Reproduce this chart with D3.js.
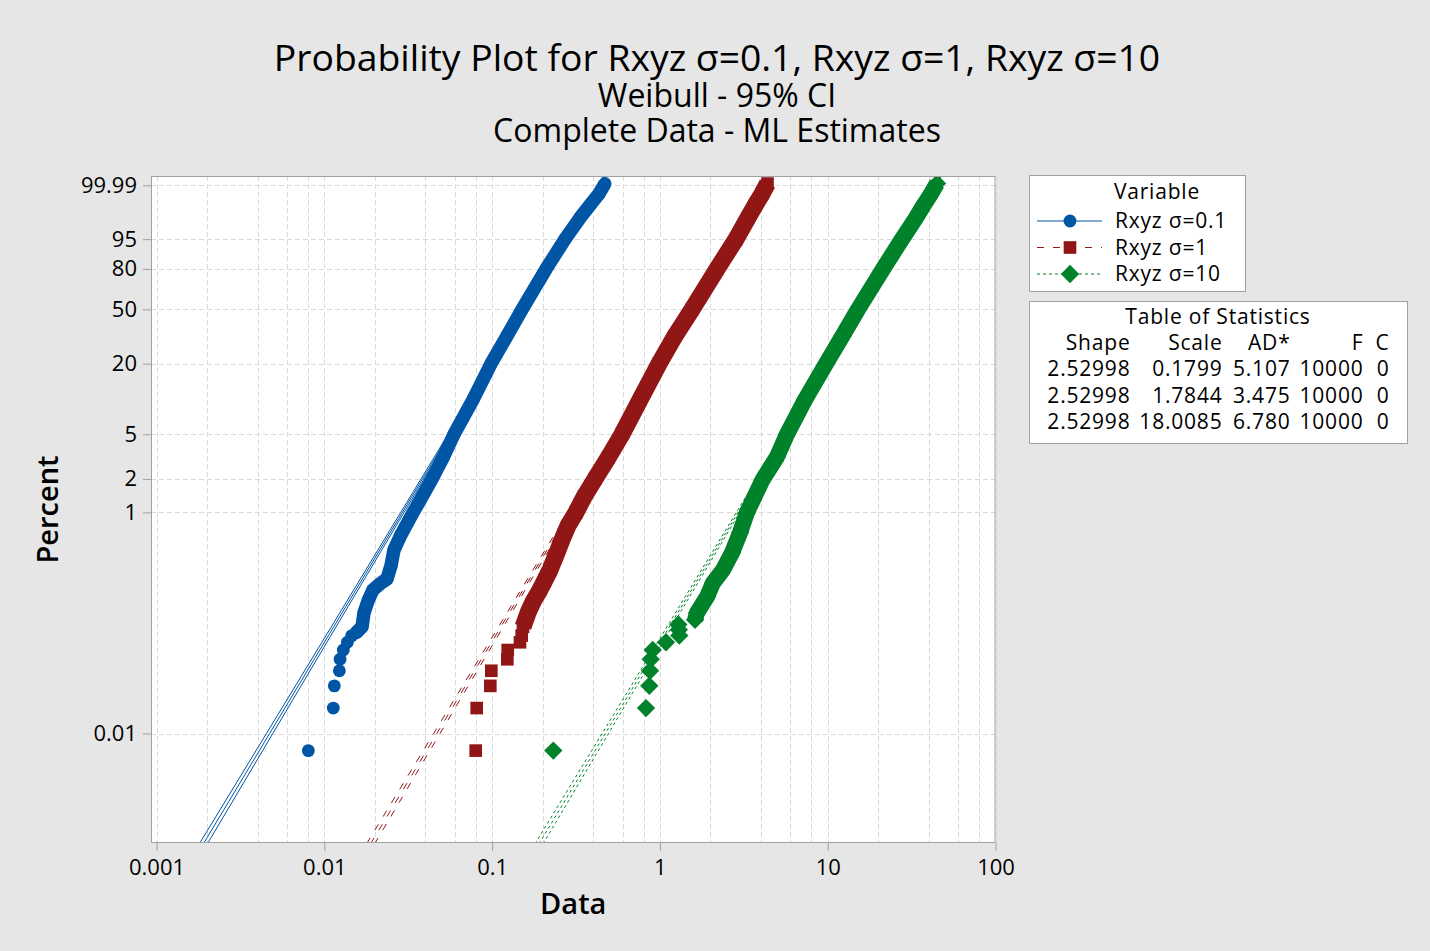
<!DOCTYPE html>
<html><head><meta charset="utf-8">
<script src="https://cdn.jsdelivr.net/npm/d3@7"></script>
<style>
body{margin:0;background:#e6e6e6;}
svg{display:block;font-family:"Open Sans","Noto Sans",sans-serif;}
</style></head><body>
<svg id="chart" width="1430" height="951"></svg>
<script>
// ---------------- data ----------------
const titleLines = ["Probability Plot for Rxyz σ=0.1, Rxyz σ=1, Rxyz σ=10", "Weibull - 95% CI", "Complete Data - ML Estimates"];
const seriesNames = ["Rxyz σ=0.1", "Rxyz σ=1", "Rxyz σ=10"];
const shapes = [2.52998, 2.52998, 2.52998];
const scales = [0.1799, 1.7844, 18.0085];
const adStats = [5.107, 3.475, 6.780];
const failures = [10000, 10000, 10000];
const censored = [0, 0, 0];
const tableHeaders = ["Shape", "Scale", "AD*", "F", "C"];

const xTickValues = [0.001, 0.01, 0.1, 1, 10, 100];
const xTickLabels = ["0.001", "0.01", "0.1", "1", "10", "100"];
const xGridValues = [0.001,0.002,0.004,0.006,0.008,0.01,0.02,0.04,0.06,0.08,0.1,0.2,0.4,0.6,0.8,1,2,4,6,8,10,20,40,60,80,100];
const yTickPercents = [0.01, 1, 2, 5, 20, 50, 80, 95, 99.99];
const yTickLabels = ["0.01", "1", "2", "5", "20", "50", "80", "95", "99.99"];
const xDomain = [0.000927, 100];
const yDomainPercent = [0.00102, 99.9986];

// confidence band half-width (log10 units) read along the percent axis
const ciPercents = [0.001, 0.01, 0.1, 1, 10, 50, 99.99, 99.9986];
const ciHalfLog10 = [0.024, 0.019, 0.014, 0.010, 0.006, 0.004, 0.007, 0.008];

// individual lower-tail points (percent, data value)
const blueTailPct = [0.007, 0.017, 0.027, 0.037, 0.047, 0.057, 0.067, 0.077];
const blueTailVal = [0.00803, 0.01131, 0.01147, 0.01229, 0.01241, 0.01298, 0.01372, 0.01457];
const redTailPct = [0.007, 0.017, 0.027, 0.037, 0.047, 0.057, 0.067, 0.077];
const redTailVal = [0.07984, 0.08093, 0.09756, 0.09890, 0.1232, 0.1239, 0.1466, 0.1501];
const greenTailPct = [0.007, 0.017, 0.027, 0.037, 0.047, 0.057, 0.067, 0.077, 0.087, 0.097];
const greenTailVal = [0.2316, 0.8263, 0.8646, 0.8730, 0.8815, 0.9060, 1.0874, 1.3050, 1.2960, 1.2873];

// dense part of each sample (percent, data value) read along the plotted band
const blueBandPct = [0.0815,0.0924,0.1237,0.159,0.200,0.2265,0.251,0.330,0.460,0.629,0.995,1.38,2,3.08,5,10,20,32.9,50,80,95,99.07,99.81,99.955,99.993];
const blueBandVal = [0.01545,0.01678,0.01724,0.01822,0.01951,0.02147,0.02364,0.02497,0.02602,0.02865,0.03378,0.03821,0.04383,0.05097,0.05928,0.0769,0.0985,0.1227,0.1508,0.2096,0.2720,0.3341,0.3886,0.4336,0.4709];
const redBandPct = [0.0924,0.1237,0.1557,0.200,0.246,0.303,0.432,0.567,0.759,1,1.38,2,3.08,5,10,20,32.9,50,80,95,99.07,99.81,99.955,99.993];
const redBandVal = [0.1528,0.1637,0.1753,0.1930,0.2067,0.2214,0.2436,0.2610,0.2834,0.3162,0.3530,0.4104,0.4906,0.5942,0.7610,0.9876,1.2303,1.5537,2.189,2.842,3.350,3.739,4.060,4.377];
const greenBandPct = [0.1069,0.1237,0.1726,0.2313,0.303,0.432,0.656,1,1.298,2,3.15,5,10,20,32.9,50,80,95,99.07,99.81,99.955,99.993];
const greenBandVal = [1.619,1.664,1.909,2.073,2.377,2.690,3.002,3.305,3.587,4.116,4.988,5.720,7.323,9.770,12.25,15.16,21.36,27.72,33.59,37.75,41.26,44.81];

const colors = ["#0055a5", "#911717", "#00822a"];
const dashes = ["none", "7,9", "3,3"];

// ---------------- layout ----------------
const W = 1430, H = 951;
const P = {left: 151, right: 995.5, top: 176, bottom: 843};
const svg = d3.select("#chart");
svg.append("rect").attr("width", W).attr("height", H).attr("fill", "#e6e6e6");

const x = d3.scaleLog().domain(xDomain).range([P.left, P.right]);
const uOf = p => Math.log(-Math.log(1 - p / 100));
const yU = d3.scaleLinear().domain(yDomainPercent.map(uOf)).range([P.bottom, P.top]);
const y = p => yU(uOf(p));

// title block (one text element, three lines)
const tSizes = [37.3, 32, 32], tY = [71, 107, 142];
const title = svg.append("text").attr("text-anchor", "middle").attr("fill", "#000");
titleLines.forEach((t, i) => title.append("tspan").attr("x", 717).attr("y", tY[i])
  .attr("font-size", tSizes[i]).text(t));

// plot area
svg.append("rect").attr("x", P.left).attr("y", P.top).attr("width", P.right - P.left)
  .attr("height", P.bottom - P.top).attr("fill", "#fff");

const grid = svg.append("g").attr("stroke", "#d9d9d9").attr("stroke-width", 1).attr("stroke-dasharray", "5,3");
xGridValues.forEach(v => {
  const xx = Math.round(x(v)) + 0.5;
  grid.append("line").attr("x1", xx).attr("x2", xx).attr("y1", P.top).attr("y2", P.bottom);
});
yTickPercents.forEach(p => {
  const yy = Math.round(y(p)) + 0.5;
  grid.append("line").attr("x1", P.left).attr("x2", P.right).attr("y1", yy).attr("y2", yy);
});

svg.append("defs").append("clipPath").attr("id", "clip").append("rect")
  .attr("x", P.left).attr("y", P.top).attr("width", P.right - P.left).attr("height", P.bottom - P.top);
const plotG = svg.append("g").attr("clip-path", "url(#clip)");

// fitted lines with confidence bounds
const line = d3.line().x(d => x(d[1])).y(d => y(d[0]));
scales.forEach((sc, s) => {
  const fit = ciPercents.map(p => sc * Math.pow(-Math.log(1 - p / 100), 1 / shapes[s]));
  [-1, 0, 1].forEach(k => {
    const pts = ciPercents.map((p, i) => [p, fit[i] * Math.pow(10, k * ciHalfLog10[i])]);
    plotG.append("path").attr("d", line(pts)).attr("fill", "none").attr("stroke", colors[s])
      .attr("stroke-width", 1).attr("stroke-dasharray", dashes[s] === "none" ? null : dashes[s]);
  });
});

// data marks
const bands = [[blueBandPct, blueBandVal], [redBandPct, redBandVal], [greenBandPct, greenBandVal]];
const tails = [[blueTailPct, blueTailVal], [redTailPct, redTailVal], [greenTailPct, greenTailVal]];
const bandWidths = [13.5, 17, 16];
const sym = [d3.symbol().type(d3.symbolCircle).size(130)(),
             d3.symbol().type(d3.symbolSquare).size(160)(),
             d3.symbol().type(d3.symbolSquare).size(168)()];
const rot = [0, 0, 45];

bands.forEach((b, s) => {
  const pts = b[0].map((p, i) => [p, b[1][i]]);
  plotG.append("path").attr("d", line(pts)).attr("fill", "none").attr("stroke", colors[s])
    .attr("stroke-width", bandWidths[s]).attr("stroke-linejoin", "round").attr("stroke-linecap", "butt");
  const all = tails[s][0].map((p, i) => [p, tails[s][1][i]]).concat(pts);
  plotG.append("g").selectAll("path").data(all).join("path")
    .attr("d", sym[s]).attr("fill", colors[s])
    .attr("transform", d => `translate(${x(d[1])},${y(d[0])}) rotate(${rot[s]})`);
});

// frame
svg.append("rect").attr("x", P.left + 0.5).attr("y", P.top + 0.5).attr("width", P.right - P.left - 1)
  .attr("height", P.bottom - P.top - 1).attr("fill", "none").attr("stroke", "#a0a0a0");

// axes
const styleAxis = g => {
  g.select(".domain").remove();
  g.selectAll("line").attr("stroke", "#a0a0a0");
  g.selectAll("text").attr("font-size", 22).attr("fill", "#000")
    .attr("font-family", "'Open Sans','Noto Sans',sans-serif");
};
svg.append("g").attr("transform", `translate(0,${P.bottom})`)
  .call(d3.axisBottom(x).tickValues(xTickValues).tickFormat((d, i) => xTickLabels[i])
    .tickSizeInner(8).tickSizeOuter(0).tickPadding(8)).call(styleAxis);
svg.append("g").attr("transform", `translate(${P.left},0)`)
  .call(d3.axisLeft(yU).tickValues(yTickPercents.map(uOf)).tickFormat((d, i) => yTickLabels[i])
    .tickSizeInner(8).tickSizeOuter(0).tickPadding(6)).call(styleAxis);

svg.append("text").attr("x", (P.left + P.right) / 2).attr("y", 914).attr("text-anchor", "middle")
  .attr("font-size", 29).attr("font-weight", 600).attr("fill", "#000").text("Data");
svg.append("text").attr("transform", `translate(58,${(P.top + P.bottom) / 2}) rotate(-90)`)
  .attr("text-anchor", "middle").attr("font-size", 29).attr("font-weight", 600).attr("fill", "#000").text("Percent");

// legend
const fs = 21, ls = 0.8;
const lg = svg.append("g").attr("letter-spacing", ls);
lg.append("rect").attr("x", 1029.5).attr("y", 175.5).attr("width", 216).attr("height", 116)
  .attr("fill", "#fff").attr("stroke", "#a0a0a0");
lg.append("text").attr("x", 1157).attr("y", 199).attr("text-anchor", "middle").attr("font-size", fs).text("Variable");
const legY = [221, 247.5, 274];
seriesNames.forEach((n, s) => {
  lg.append("line").attr("x1", 1037).attr("x2", 1102).attr("y1", legY[s]).attr("y2", legY[s])
    .attr("stroke", colors[s]).attr("stroke-dasharray", dashes[s] === "none" ? null : dashes[s]);
  lg.append("path").attr("d", sym[s]).attr("fill", colors[s])
    .attr("transform", `translate(1070,${legY[s]}) rotate(${rot[s]})`);
  lg.append("text").attr("x", 1115).attr("y", legY[s] + 7).attr("font-size", fs).text(n);
});

// table of statistics
const tb = svg.append("g").attr("letter-spacing", ls);
tb.append("rect").attr("x", 1029.5).attr("y", 301.5).attr("width", 378).attr("height", 142)
  .attr("fill", "#fff").attr("stroke", "#a0a0a0");
tb.append("text").attr("x", 1218).attr("y", 324).attr("text-anchor", "middle").attr("font-size", fs).text("Table of Statistics");
const colRight = [1130.5, 1222.5, 1290.5, 1363.5, 1389.5];
tableHeaders.forEach((h, c) => tb.append("text").attr("x", colRight[c]).attr("y", 350)
  .attr("text-anchor", "end").attr("font-size", fs).text(h));
const rowY = [376, 402.5, 429];
seriesNames.forEach((n, s) => {
  const vals = [String(shapes[s]), String(scales[s]), adStats[s].toFixed(3), String(failures[s]), String(censored[s])];
  vals.forEach((v, c) => tb.append("text").attr("x", colRight[c]).attr("y", rowY[s])
    .attr("text-anchor", "end").attr("font-size", fs).text(v));
});
</script>
</body></html>
